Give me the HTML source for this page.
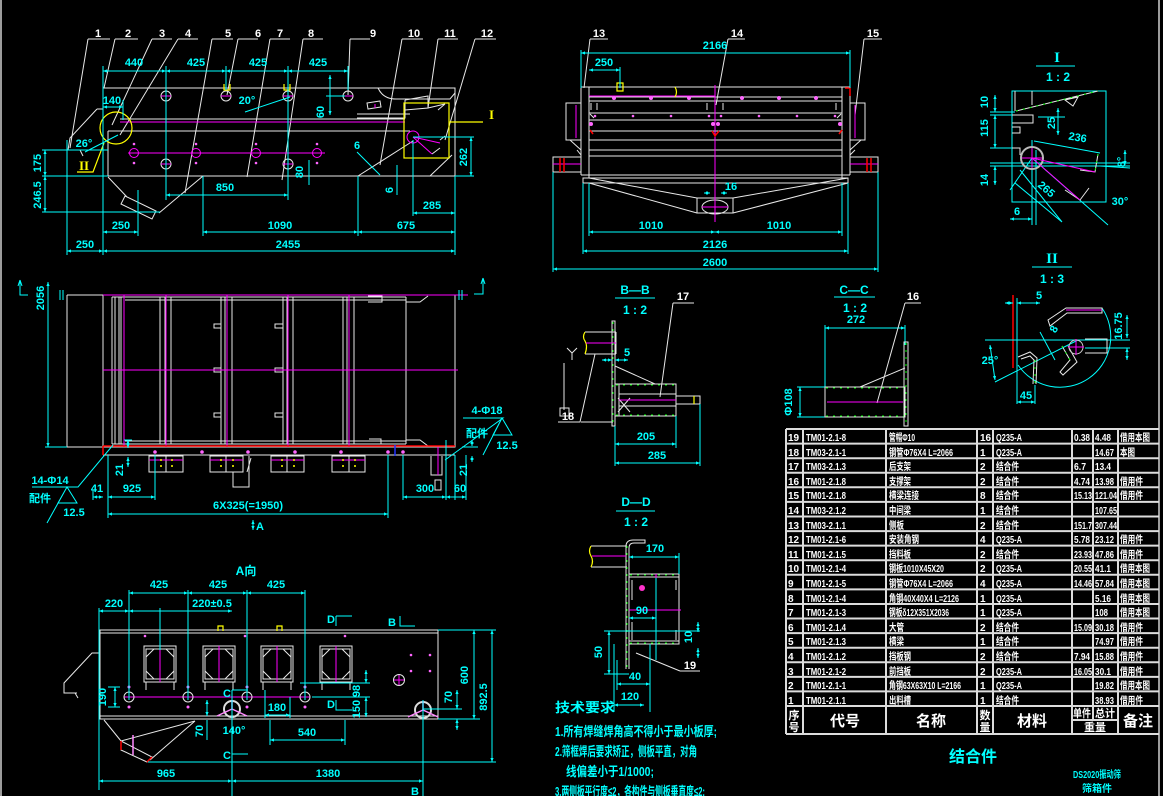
<!DOCTYPE html>
<html><head><meta charset="utf-8"><style>
html,body{margin:0;padding:0;background:#000;}
svg{display:block}
.w{stroke:#e8e8e8;fill:none;stroke-width:1}
.c{stroke:#00ffff;fill:none;stroke-width:1}
.m{stroke:#ff00ff;fill:none;stroke-width:1}
.y{stroke:#ffff00;fill:none;stroke-width:1.2}
.r{stroke:#ff0000;fill:none;stroke-width:1.5}
.g{stroke:#00ff00;fill:none;stroke-width:1;stroke-dasharray:2 5}
.d{stroke:#00ffff;fill:none;stroke-width:1;marker-start:url(#a);marker-end:url(#a)}
.tc{fill:#00ffff;font-family:"Liberation Sans","Noto Sans CJK SC",sans-serif;font-size:11px;font-weight:bold;text-anchor:middle}
.tw{fill:#ffffff;font-family:"Liberation Sans","Noto Sans CJK SC",sans-serif;font-size:11px;font-weight:bold;text-anchor:middle}
.tl{fill:#ffffff;font-family:"Liberation Sans","Noto Sans CJK SC",sans-serif;font-size:10px;font-weight:bold}
.tz{fill:#00ffff;font-family:"Liberation Sans","Noto Sans CJK SC",sans-serif;font-size:13px;font-weight:bold}
.pd{fill:#ff66ff}
</style></head><body>
<svg width="1163" height="796" viewBox="0 0 1163 796" xmlns="http://www.w3.org/2000/svg">
<defs>
<marker id="a" viewBox="0 0 10 10" refX="10" refY="5" markerWidth="7" markerHeight="4" markerUnits="userSpaceOnUse" orient="auto-start-reverse"><path d="M0,1 L10,5 L0,9z" fill="#00ffff"/></marker>
</defs>
<rect width="1163" height="796" fill="#000"/>
<path d="M1,0 V796 M1159,0 V796" stroke="#cfcfcf" stroke-width="1.5"/>

<!-- ================= VIEW 1 (side view) ================= -->
<g class="w">
<path d="M103,88 H455 V176 M103,88 V176 M108,131 V176 M108,176 H455"/>
<path d="M120,119 H405 M108,131 H410 M357,114 H410 M357,118 H405 V100"/>
<path d="M108,177 L127,197 M203,176 L159,213 M125,196 L156,211 L152,219 L121,204 Z"/>
<path d="M358,176 L413,141 M430,176 L452,155"/>
<path d="M378,88 Q383,99 396,99 H450 L455,93 M405,100 L428,96 V108 L405,110 M428,108 L445,104 L438,110 M440,140 L445,136 M432,154 L440,148"/>
<path d="M97,109 H103 M97,109 L70,138 L68,150 H108 M80,150 L83,156"/>
<path d="M367,103 L380,101 L381,107 L368,109 Z"/>
<circle cx="166" cy="96" r="5"/><circle cx="226" cy="96" r="5"/><circle cx="288" cy="96" r="5"/><circle cx="348" cy="96" r="5"/>
<circle cx="166" cy="164" r="5"/><circle cx="288" cy="164" r="5"/>
<path d="M88,39 H110 M88,39 L70,148 M115,39 H138 M115,39 L104,88 M152,39 H172 M152,39 L112,125 M178,39 H198 M178,39 L120,135 M212,39 H233 M212,39 L185,193 M238,39 H258 M238,39 L227,95 M270,39 H290 M270,39 L247,177 M303,39 H323 M303,39 L282,180 M350,39 H370 M350,39 L348,95 M402,39 H423 M402,39 L380,165 M438,39 H458 M438,39 L428,108 M475,39 H496 M475,39 L445,140"/>
</g>
<g class="m">
<path d="M120,122 H405 M128,153 H325 M161,96 H171 M166,91 V101 M221,96 H231 M283,96 H293 M343,96 H353 M161,164 H171 M283,164 H293"/>
<circle cx="134" cy="153" r="4.5"/><circle cx="196" cy="153" r="4.5"/><circle cx="256" cy="153" r="4.5"/><circle cx="317" cy="153" r="4.5"/>
<circle cx="413" cy="137" r="6"/>
<path d="M413,137 L440,143 M413,137 L432,154 M375,104 V108"/>
</g>
<g class="pd"><circle cx="134" cy="144" r="1.3"/><circle cx="134" cy="163" r="1.3"/><circle cx="196" cy="144" r="1.3"/><circle cx="196" cy="163" r="1.3"/><circle cx="256" cy="144" r="1.3"/><circle cx="256" cy="163" r="1.3"/><circle cx="317" cy="144" r="1.3"/><circle cx="317" cy="163" r="1.3"/></g>
<g class="y">
<rect x="404" y="103" width="45" height="55"/>
<circle cx="116" cy="128" r="16"/>
<path d="M449,122 H483 M104,143 L93,172 H77 M224,84 V90 H230 V84 M284,84 V90 H290 V84"/>
</g>
<text x="489" y="119" fill="#ffff00" font-family="Liberation Serif,serif" font-size="13" font-weight="bold">I</text>
<text x="79" y="170" fill="#ffff00" font-family="Liberation Serif,serif" font-size="13" font-weight="bold">II</text>
<g class="tw">
<text x="98" y="37">1</text><text x="128" y="37">2</text><text x="162" y="37">3</text><text x="188" y="37">4</text><text x="228" y="37">5</text><text x="258" y="37">6</text><text x="280" y="37">7</text><text x="311" y="37">8</text><text x="373" y="37">9</text><text x="414" y="37">10</text><text x="450" y="37">11</text><text x="487" y="37">12</text>
</g>
<g class="c">
<path d="M103,66 V255 M166,66 V200 M226,66 V90 M288,66 V200 M348,66 V90 M123,100 V120 M326,96 H345 M42,150 H108 M42,176 H108 M42,212 H160 M413,137 H474 M455,176 H474 M413,140 V216 M138,190 V236 M203,176 V236 M358,176 V236 M455,176 V255 M67,140 V255 M245,112 L290,97 M85,152 L118,135 M357,152 L380,175 M309,160 V185 M397,165 V195"/>
</g>
<g class="d">
<path d="M103,71 H166"/><path d="M166,71 H226"/><path d="M226,71 H288"/><path d="M288,71 H348"/>
<path d="M103,107 H123"/><path d="M330,75 V115"/>
<path d="M45,150 V176"/><path d="M45,176 V212"/>
<path d="M166,195 H288"/><path d="M471,137 V176"/><path d="M413,213 H455"/>
<path d="M103,232 H138"/><path d="M203,232 H358"/><path d="M358,232 H455"/>
<path d="M67,251 H103"/><path d="M103,251 H455"/>
</g>
<g class="tc">
<text x="134" y="66">440</text><text x="196" y="66">425</text><text x="258" y="66">425</text><text x="318" y="66">425</text>
<text x="112" y="104">140</text><text x="247" y="104">20°</text><text x="84" y="147">26°</text>
<text x="225" y="191">850</text><text x="357" y="149">6</text><text x="432" y="209">285</text>
<text x="121" y="229">250</text><text x="280" y="229">1090</text><text x="406" y="229">675</text>
<text x="85" y="248">250</text><text x="288" y="248">2455</text>
<text transform="rotate(-90 324 112)" x="324" y="112">60</text>
<text transform="rotate(-90 303 172)" x="303" y="172">80</text>
<text transform="rotate(-90 393 190)" x="393" y="190">6</text>
<text transform="rotate(-90 467 157)" x="467" y="157">262</text>
<text transform="rotate(-90 41 163)" x="41" y="163">175</text>
<text transform="rotate(-90 41 195)" x="41" y="195">246.5</text>
</g>

<!-- ================= VIEW 2 (end view) ================= -->
<g class="w">
<path d="M581,87 H850 M581,87 V175 M589,87 V178 M842,87 V178 M850,87 V175 M581,175 H850"/>
<path d="M589,97 H842 M589,101 H842 M589,113 H842 M589,120 H842 M589,131 H842 M589,140 H842 M589,150 H842 M589,156 H842"/>
<rect x="566" y="103" width="15" height="37"/><rect x="850" y="103" width="15" height="37"/>
<path d="M570,140 L581,150 M577,150 L581,155 M861,140 L850,150 M855,150 L850,155"/>
<rect x="553" y="157" width="28" height="15"/><rect x="850" y="157" width="28" height="15"/>
<rect x="583" y="178" width="265" height="5"/>
<path d="M589,178 L697,198 M589,183 L697,213 M733,198 L848,178 M733,213 L848,183"/>
<rect x="697" y="198" width="36" height="15"/>
<ellipse cx="715" cy="207" rx="13" ry="7"/>
<path d="M591,103 V110 M597,103 V110 M707,103 V110 M723,103 V110 M836,103 V110 M590,114 L594,118 M841,114 L837,118"/>
<path d="M590,39 H608 M590,39 L584,88 M728,39 H745 M728,39 L716,105 M864,39 H882 M864,39 L855,115"/>
</g>
<g class="m">
<path d="M715,85 V222 M589,96 H715 M576,105 V138 M855,105 V138 M553,164 H581 M850,164 H878 M702,207 H728"/>
</g>
<g class="pd">
<circle cx="614" cy="98" r="2"/><circle cx="651" cy="98" r="2"/><circle cx="689" cy="98" r="2"/><circle cx="742" cy="98" r="2"/><circle cx="779" cy="98" r="2"/><circle cx="816" cy="98" r="2"/>
<circle cx="595" cy="116" r="1.3"/><circle cx="633" cy="116" r="1.3"/><circle cx="671" cy="116" r="1.3"/><circle cx="709" cy="116" r="1.3"/><circle cx="721" cy="116" r="1.3"/><circle cx="759" cy="116" r="1.3"/><circle cx="797" cy="116" r="1.3"/><circle cx="835" cy="116" r="1.3"/>
<circle cx="591" cy="124" r="2"/><circle cx="713" cy="124" r="2"/><circle cx="718" cy="124" r="2"/><circle cx="840" cy="124" r="2"/>
</g>
<g class="r"><path d="M845,88 H850 V96 M560,158 V172 M564,158 V172 M867,158 V172 M871,158 V172 M590,130 L593,134 M712,131 L715,136 L719,131 M842,130 L839,134"/></g>
<path d="M617,83 H623 V91 H617 Z M675,87 Q678,92 675,97" class="y"/>
<g class="c">
<path d="M581,50 V88 M850,50 V88 M620,67 V88 M553,172 V272 M878,172 V272 M583,183 V254 M848,183 V254 M589,183 V236 M842,183 V236"/>
</g>
<g class="d">
<path d="M581,53 H850"/><path d="M589,70 H620"/><path d="M704,193 H710"/><path d="M727,193 H721"/>
<path d="M589,232 H715"/><path d="M715,232 H842"/><path d="M583,251 H848"/><path d="M553,269 H878"/>
</g>
<g class="tc">
<text x="715" y="49">2166</text><text x="604" y="66">250</text><text x="731" y="190">16</text>
<text x="651" y="229">1010</text><text x="779" y="229">1010</text><text x="715" y="248">2126</text><text x="715" y="266">2600</text>
</g>
<g class="tw"><text x="599" y="37">13</text><text x="737" y="37">14</text><text x="873" y="37">15</text></g>

<!-- ================= DETAIL I ================= -->
<g class="c">
<rect x="1012" y="91" width="94" height="111"/>
<path d="M1036,66 H1075 M990,163 H1130 M990,166 H1130 M990,112 H1015 M990,115 H1015 M990,148 H1015 M1038,117 H1065 M1034,141 L1100,153 M1032,158 L1108,225 M1020,170 L1062,222 M1032,158 L1010,190 M1015,183 L1062,222 M1100,166 L1130,168 M1032,140 V225 M1036,150 V225"/>
</g>
<g class="d"><path d="M995,95 V112"/><path d="M995,115 V148"/><path d="M995,166 V185"/><path d="M1058,108 V135"/><path d="M1010,219 H1032"/><path d="M1125,165 V150"/></g>
<g class="w">
<path d="M1016,111 L1098,91 M1015,91 V111 M1032,91 V105 M1065,100 L1078,97 L1073,106 Z M1012,115 H1033 V123 H1012 M1012,127 H1020 V133 H1012 M1012,148 H1020 V155 M1098,154 L1095,172 L1080,170 M1065,190 L1080,200 L1089,188"/>
</g>
<circle cx="1032" cy="158" r="11" stroke="#bbbbbb" stroke-width="2" fill="none"/>
<g class="m"><path d="M1022,158 H1042 M1032,148 V168 M1032,158 L1095,172 M1032,158 L1080,200"/></g>
<g class="g"><path d="M1016,111 L1098,91 M1098,154 L1095,172"/></g>
<text x="1057" y="62" class="tc" style="font-size:15px;font-family:'Liberation Serif',serif">I</text>
<text x="1058" y="81" class="tc" style="font-size:12px">1 : 2</text>
<g class="tc">
<text transform="rotate(-90 988 102)" x="988" y="102">10</text>
<text transform="rotate(-90 988 128)" x="988" y="128">115</text>
<text transform="rotate(-90 988 180)" x="988" y="180">14</text>
<text transform="rotate(-90 1055 123)" x="1055" y="123">25</text>
<text transform="rotate(10 1077 141)" x="1077" y="141">236</text>
<text transform="rotate(-90 1125 162)" x="1125" y="162">8°</text>
<text x="1120" y="205">30°</text>
<text transform="rotate(40 1044 192)" x="1044" y="192">265</text>
<text x="1017" y="215">6</text>
</g>

<!-- ================= DETAIL II ================= -->
<path d="M1032,267 H1072" class="c"/>
<text x="1052" y="263" class="tc" style="font-size:15px;font-family:'Liberation Serif',serif">II</text>
<text x="1052" y="283" class="tc" style="font-size:12px">1 : 3</text>
<path d="M1013,295 V368" class="r"/>
<g class="c">
<path d="M1102,308 A50,50 0 1 1 1018,365"/>
<path d="M1017,298 V404 M985,340 H1130 M1085,348 H1130 M995,382 L1078,340 M1040,332 L1055,360 M1035,385 V404"/>
</g>
<g class="d"><path d="M1005,303 H1013"/><path d="M1040,303 H1017"/><path d="M1127,315 V338"/><path d="M1127,360 V348"/><path d="M1017,402 H1035"/><path d="M990,345 L995,380"/></g>
<g class="w">
<path d="M1048,320 L1066,308 H1102 V313 H1067 L1050,326 Z M1085,339 H1107 V353 H1085 M1018,357 L1030,352 L1037,358 L1036,384 M1021,359 L1030,356 L1034,360 L1033,384 M1062,346 L1070,360 L1060,372 L1063,375 L1077,362 L1068,346"/>
</g>
<circle cx="1076" cy="347" r="7" stroke="#cccccc" fill="none"/>
<g class="m"><path d="M1068,347 H1084 M1076,339 V355 M1066,310 L1102,310"/></g>
<g class="g"><path d="M1035,360 V384 M1062,346 L1070,360"/></g>
<g class="tc">
<text x="1039" y="299">5</text>
<text transform="rotate(-90 1122 326)" x="1122" y="326">16.75</text>
<text x="990" y="364">25°</text><text x="1026" y="399">45</text>
<text transform="rotate(-60 1057 331)" x="1057" y="331">8</text>
</g>

<!-- ================= C-C ================= -->
<text x="854" y="294" class="tc" style="font-size:12px">C—C</text>
<path d="M834,297 H875" class="c"/>
<text x="855" y="312" class="tc" style="font-size:12px">1 : 2</text>
<g class="c"><path d="M825,325 V417 M905,325 V345 M797,387 H825 M797,417 H825"/></g>
<g class="d"><path d="M825,328 H905"/><path d="M800,387 V417"/></g>
<g class="w">
<rect x="825" y="387" width="80" height="30"/><rect x="904" y="342" width="4" height="84"/>
<path d="M860,387 L905,368 M905,303 H921 M905,303 L877,403"/>
</g>
<path d="M827,402 H903" class="m"/>
<g class="g"><path d="M826,388 H904 M826,416 H904 M906,343 V425"/></g>
<g class="tc"><text x="856" y="323">272</text><text transform="rotate(-90 792 402)" x="792" y="402">Φ108</text></g>
<text x="913" y="300" class="tw">16</text>

<!-- ================= B-B ================= -->
<text x="635" y="294" class="tc" style="font-size:12px">B—B</text>
<path d="M615,298 H655" class="c"/>
<text x="635" y="314" class="tc" style="font-size:12px">1 : 2</text>
<g class="w">
<rect x="612" y="321" width="3" height="105"/>
<path d="M585,332 H616 M585,354 H616 M616,332 V354 M615,366 L655,384"/>
<rect x="615" y="384" width="61" height="32"/>
<path d="M619,394 H676 M619,406 H676 M619,384 V416 M618,398 L630,412 M630,398 L618,412"/>
<rect x="676" y="396" width="24" height="8"/>
<path d="M673,303 H694 M673,303 L660,397 M564,363 V410 M560,408 H569 V416 H560 Z M558,422 H580 L595,354 M567,348 L572,353 L577,348 M572,353 V360 M581,422 H613"/>
</g>
<path d="M585,332 Q582,337 585,341 Q588,346 585,354 M694,396 V404" class="y"/>
<path d="M586,343 H616 M619,400 H676" class="m"/>
<g class="g"><path d="M613,322 V426 M616,385 H676 M616,415 H676"/></g>
<g class="c"><path d="M615,426 V466 M676,416 V448 M700,404 V466"/></g>
<g class="d"><path d="M602,360 H612"/><path d="M628,360 H615"/><path d="M615,444 H676"/><path d="M615,463 H700"/></g>
<g class="tc"><text x="627" y="356">5</text><text x="646" y="440">205</text><text x="657" y="459">285</text></g>
<g class="tw"><text x="683" y="300">17</text><text x="568" y="420">18</text></g>

<!-- ================= D-D ================= -->
<text x="636" y="506" class="tc" style="font-size:12px">D—D</text>
<path d="M616,511 H655" class="c"/>
<text x="636" y="526" class="tc" style="font-size:12px">1 : 2</text>
<g class="w">
<path d="M591,546 H627 M591,567 H627 M626,545 V669 M629,548 V669 M626,545 Q627,540 633,540 H645 V543 H634 Q629,543 629,548"/>
<rect x="629" y="574" width="50" height="70"/>
<path d="M629,577 H679 M629,641 H679 M632,580 V600 M632,622 V640 M676,580 V590 M676,630 V640 M680,671 H700 M680,671 L636,653"/>
</g>
<path d="M591,546 Q588,551 591,556 Q594,561 591,567" class="y"/>
<g class="m"><path d="M592,556 H626 M629,610 H681 M656,574 V640"/></g>
<circle cx="642" cy="588" r="3" fill="#ff33cc"/>
<g class="g"><path d="M627,546 V668 M630,575 H678 M630,643 H678"/></g>
<g class="c"><path d="M679,553 V574 M656,578 V660 M604,631 H700 M604,674 H629 M617,660 V690 M650,644 V712 M614,644 V712"/></g>
<g class="d"><path d="M629,557 H679"/><path d="M629,618 H656"/><path d="M698,622 V632"/><path d="M698,658 V648"/><path d="M609,631 V674"/><path d="M617,684 H650"/><path d="M614,705 H644"/></g>
<g class="tc"><text x="655" y="552">170</text><text x="642" y="614">90</text>
<text transform="rotate(-90 692 637)" x="692" y="637">10</text>
<text transform="rotate(-90 602 652)" x="602" y="652">50</text>
<text x="635" y="680">40</text><text x="630" y="700">120</text></g>
<text x="690" y="669" class="tw">19</text>

<!-- ================= VIEW 3 (plan view) ================= -->
<g class="w">
<path d="M67,295 V447 H455 V295 M67,295 H103 M103,295 V447"/>
<path d="M112,297 V444 M115,297 V444 M119,297 V444 M121,297 V444 M160,297 V444 M165,297 V444 M171,297 V444 M221,297 V444 M225,297 V444 M232,297 V444 M283,297 V444 M287,297 V444 M293,297 V444 M343,297 V444 M347,297 V444 M354,297 V444 M406,297 V444"/>
<path d="M112,297 H406 M125,300 H406 M125,441 H406 M112,444 H406"/>
<path d="M368,296 H382 V302 H368 M406,302 H420 L428,296 M406,440 H420 L428,446 M369,439 H381 V444"/>
<path d="M214,324 H221 V328 H214 Z M214,368 H221 V372 H214 Z M214,413 H221 V417 H214 Z M275,324 H283 V328 H275 Z M275,368 H283 V372 H275 Z M275,413 H283 V417 H275 Z"/>
<path d="M103,455 H455"/>
<rect x="149" y="456" width="34" height="16"/><rect x="210" y="456" width="33" height="16"/><rect x="271" y="456" width="33" height="16"/><rect x="332" y="456" width="33" height="16"/>
<path d="M166,456 V472 M226,456 V472 M287,456 V472 M349,456 V472 M233,472 V487 H249 V456 M251,458 L247,472 M431,456 V475 H442 V456 M435,480 H441 V490 H435 Z"/>
</g>
<g class="m">
<path d="M103,295 H468 M103,370 H458 M124,295 V447 M166,295 V447 M227,295 V447 M288,295 V447 M349,295 V447"/>
<path d="M149,460 H183 M210,460 H243 M271,460 H304 M332,460 H365 M438,447 V475"/>
</g>
<path d="M103,446 H455 M103,446 V455" class="r"/>
<path d="M395,445 V456" stroke="#2233ff" stroke-width="1.5"/>
<g class="pd"><circle cx="155" cy="452" r="1.8"/><circle cx="202" cy="452" r="1.8"/><circle cx="248" cy="452" r="1.8"/><circle cx="295" cy="452" r="1.8"/><circle cx="341" cy="452" r="1.8"/><circle cx="388" cy="452" r="1.8"/><circle cx="403" cy="452" r="1.8"/></g>
<g fill="#ffff00"><circle cx="161" cy="460" r="1"/><circle cx="172" cy="460" r="1"/><circle cx="161" cy="466" r="1"/><circle cx="172" cy="466" r="1"/><circle cx="221" cy="460" r="1"/><circle cx="233" cy="460" r="1"/><circle cx="221" cy="466" r="1"/><circle cx="233" cy="466" r="1"/><circle cx="282" cy="460" r="1"/><circle cx="294" cy="460" r="1"/><circle cx="282" cy="466" r="1"/><circle cx="294" cy="466" r="1"/><circle cx="343" cy="460" r="1"/><circle cx="355" cy="460" r="1"/><circle cx="343" cy="466" r="1"/><circle cx="355" cy="466" r="1"/></g>
<g class="c">
<path d="M20,280 V295 H28 M483,278 V294 H474 M60,290 V300 M63,290 V300 M459,290 V300 M462,290 V300 M45,447 H67"/>
<path d="M32,487 H78 L113,445 M47,523 L67,487 M58,503 L67,487 L77,503 Z"/>
<path d="M463,418 H503 L445,460 M483,455 L502,418 M493,435 L502,418 L512,435 Z"/>
<path d="M108,455 V518 M155,455 V500 M403,455 V500 M446,440 V500 M455,455 V500 M466,455 V500 M388,455 V518 M93,490 V500 M124,440 H132 M462,447 H478"/>
<path d="M20,280 L18,286 M20,280 L22,286 M483,278 L481,284 M483,278 L485,284"/>
</g>
<g class="d"><path d="M48,282 V447"/><path d="M128,440 V448"/><path d="M128,467 V457"/><path d="M472,440 V446"/><path d="M472,462 V456"/>
<path d="M93,497 H103"/><path d="M108,497 H155"/><path d="M403,497 H446"/><path d="M446,497 H466"/><path d="M108,514 H388"/><path d="M253,530 V520"/></g>
<g class="tc">
<text transform="rotate(-90 44 298)" x="44" y="298">2056</text>
<text x="50" y="484">14-Φ14</text><text x="40" y="502">配件</text><text x="74" y="516">12.5</text>
<text x="487" y="414">4-Φ18</text><text x="477" y="437">配件</text><text x="507" y="449">12.5</text>
<text transform="rotate(-90 123 470)" x="123" y="470">21</text>
<text transform="rotate(-90 467 470)" x="467" y="470">21</text>
<text x="97" y="492">41</text><text x="132" y="492">925</text><text x="425" y="492">300</text><text x="460" y="492">60</text>
<text x="248" y="509">6X325(=1950)</text><text x="260" y="530">A</text>
</g>

<!-- ================= VIEW 4 (A direction) ================= -->
<text x="246" y="575" class="tc" style="font-size:12px">A向</text>
<g class="w">
<path d="M100,630 H438 V719 H100 Z M100,633 H438 M100,716 H438"/>
<path d="M100,653 H92 L64,683 V693 H77 M75,693 L78,698"/>
<path d="M104,720 L121,741 M121,741 L195,721 M150,760 L195,721 M121,741 L152,757 L147,762 L121,750 Z"/>
</g>
<g id="bx">
<g class="w"><rect x="144" y="646" width="32" height="36"/><rect x="146" y="649" width="28" height="30"/>
<path d="M146,657 L154,649 M166,649 L174,657 M146,671 L154,679 M166,679 L174,671 M146,682 V690 M174,682 V690"/></g>
<path d="M160,646 V682" class="m"/>
</g>
<use href="#bx" x="59"/><use href="#bx" x="117"/><use href="#bx" x="176"/>
<g class="m"><path d="M125,697 H310 M124,697 H134 M183,697 H193 M242,697 H252 M300,697 H310 M394,680 H404 M399,675 V685"/></g>
<g class="w"><circle cx="129" cy="697" r="5"/><circle cx="188" cy="697" r="5"/><circle cx="247" cy="697" r="5"/><circle cx="305" cy="697" r="5"/><circle cx="399" cy="680" r="5.5"/></g>
<circle cx="232" cy="709" r="8" stroke="#dddddd" stroke-width="2" fill="none"/>
<circle cx="423" cy="710" r="8" stroke="#dddddd" stroke-width="2" fill="none"/>
<g stroke="#ff88ff" stroke-width="1.5"><path d="M232,709 L217,716 M232,709 L247,716 M232,709 V700 M423,710 L408,717 M423,710 L438,717 M423,710 V701 M133,735 V755"/></g>
<g class="pd"><circle cx="129" cy="687" r="1.5"/><circle cx="129" cy="707" r="1.5"/><circle cx="188" cy="687" r="1.5"/><circle cx="188" cy="707" r="1.5"/><circle cx="247" cy="687" r="1.5"/><circle cx="247" cy="707" r="1.5"/><circle cx="305" cy="687" r="1.5"/><circle cx="305" cy="707" r="1.5"/><circle cx="145" cy="636" r="1.3"/><circle cx="245" cy="636" r="1.3"/><circle cx="345" cy="636" r="1.3"/><circle cx="411" cy="655" r="1.3"/><circle cx="430" cy="655" r="1.3"/><circle cx="411" cy="671" r="1.3"/><circle cx="430" cy="671" r="1.3"/></g>
<path d="M218,631 V626 H223 V631 M277,631 V626 H282 V631" class="y"/>
<path d="M121,741 L121,750 M152,757 L147,762" class="r"/>
<g class="c">
<path d="M99,608 V790 M129,590 V700 M188,590 V700 M247,590 V700 M305,590 V700 M160,608 V650 M438,630 H496 M438,719 H480 M148,762 H496 M232,690 V796 M423,700 V796 M423,709 H462"/>
<path d="M300,683 H370 M312,697 H370 M265,690 V718 M290,697 V718 M270,720 V745 M345,720 V745 M207,720 V740 M108,687 H120 M108,707 H120 M400,616 V626 H415 M336,616 V626 M336,616 H352 M336,700 V710 H352 M232,690 H248 M232,754 H248"/>
</g>
<g class="d"><path d="M129,593 H188"/><path d="M188,593 H247"/><path d="M247,593 H305"/><path d="M99,611 H129"/><path d="M129,611 H232"/>
<path d="M474,630 V719"/><path d="M492,630 V762"/><path d="M457,690 V709"/><path d="M457,730 V719"/><path d="M366,670 V683"/><path d="M366,717 V697"/>
<path d="M265,715 H290"/><path d="M270,740 H345"/><path d="M207,700 V716"/><path d="M115,687 V707"/><path d="M99,781 H232"/><path d="M232,781 H423"/></g>
<g class="tc">
<text x="159" y="588">425</text><text x="218" y="588">425</text><text x="276" y="588">425</text>
<text x="114" y="607">220</text><text x="212" y="607">220±0.5</text>
<text transform="rotate(-90 468 675)" x="468" y="675">600</text>
<text transform="rotate(-90 487 697)" x="487" y="697">892.5</text>
<text transform="rotate(-90 452 697)" x="452" y="697">70</text>
<text transform="rotate(-90 360 691)" x="360" y="691">98</text>
<text transform="rotate(-90 360 709)" x="360" y="709">150</text>
<text x="277" y="711">180</text><text x="307" y="736">540</text><text x="234" y="734">140°</text>
<text transform="rotate(-90 203 731)" x="203" y="731">70</text>
<text transform="rotate(-90 106 697)" x="106" y="697">190</text>
<text x="166" y="777">965</text><text x="328" y="777">1380</text>
<text x="227" y="697">C</text><text x="227" y="759">C</text><text x="331" y="623">D</text><text x="331" y="708">D</text><text x="392" y="626">B</text><text x="415" y="795">B</text>
</g>

<!-- ================= TECH REQUIREMENTS ================= -->
<text x="555" y="712" class="tz" textLength="60" lengthAdjust="spacingAndGlyphs">技术要求</text>
<text x="555" y="736" class="tz" textLength="162" lengthAdjust="spacingAndGlyphs">1.所有焊缝焊角高不得小于最小板厚;</text>
<text x="555" y="756" class="tz" textLength="142" lengthAdjust="spacingAndGlyphs">2.筛框焊后要求矫正，侧板平直，对角</text>
<text x="566" y="776" class="tz" textLength="88" lengthAdjust="spacingAndGlyphs">线偏差小于1/1000;</text>
<text x="555" y="796" class="tz" textLength="150" lengthAdjust="spacingAndGlyphs">3.两侧板平行度≤2，各构件与侧板垂直度≤2;</text>

<!-- ================= TABLE ================= -->
<g stroke="#dcdcdc" stroke-width="2" fill="none">
<path d="M786,429 H1159 M786,443.6 H1159 M786,458.2 H1159 M786,472.7 H1159 M786,487.3 H1159 M786,501.9 H1159 M786,516.5 H1159 M786,531.1 H1159 M786,545.6 H1159 M786,560.2 H1159 M786,574.8 H1159 M786,589.4 H1159 M786,604 H1159 M786,618.5 H1159 M786,633.1 H1159 M786,647.7 H1159 M786,662.3 H1159 M786,676.9 H1159 M786,691.4 H1159 M786,706 H1159 M786,734 H1159"/>
<path d="M786,429 V734 M803,429 V734 M886,429 V734 M977,429 V734 M993,429 V734 M1072,429 V734 M1093,429 V720 M1118,429 V734 M1072,720 H1118"/>
</g>
<g class="tl">
<text x="788" y="441">19</text><text x="806" y="441" textLength="40" lengthAdjust="spacingAndGlyphs">TM01-2.1-8</text><text x="889" y="441" textLength="26" lengthAdjust="spacingAndGlyphs">管帽Φ10</text><text x="980" y="441">16</text><text x="996" y="441" textLength="26" lengthAdjust="spacingAndGlyphs">Q235-A</text><text x="1074" y="441" textLength="16" lengthAdjust="spacingAndGlyphs">0.38</text><text x="1095" y="441" textLength="16" lengthAdjust="spacingAndGlyphs">4.48</text><text x="1120" y="441" textLength="30" lengthAdjust="spacingAndGlyphs">借用本图</text>
<text x="788" y="456">18</text><text x="806" y="456" textLength="40" lengthAdjust="spacingAndGlyphs">TM03-2.1-1</text><text x="889" y="456" textLength="64" lengthAdjust="spacingAndGlyphs">钢管Φ76X4  L=2066</text><text x="980" y="456">1</text><text x="996" y="456" textLength="26" lengthAdjust="spacingAndGlyphs">Q235-A</text><text x="1095" y="456" textLength="19" lengthAdjust="spacingAndGlyphs">14.67</text><text x="1120" y="456" textLength="15" lengthAdjust="spacingAndGlyphs">本图</text>
<text x="788" y="470">17</text><text x="806" y="470" textLength="40" lengthAdjust="spacingAndGlyphs">TM03-2.1.3</text><text x="889" y="470" textLength="22" lengthAdjust="spacingAndGlyphs">后支架</text><text x="980" y="470">2</text><text x="996" y="470" textLength="23" lengthAdjust="spacingAndGlyphs">结合件</text><text x="1074" y="470" textLength="12" lengthAdjust="spacingAndGlyphs">6.7</text><text x="1095" y="470" textLength="16" lengthAdjust="spacingAndGlyphs">13.4</text>
<text x="788" y="485">16</text><text x="806" y="485" textLength="40" lengthAdjust="spacingAndGlyphs">TM01-2.1.8</text><text x="889" y="485" textLength="22" lengthAdjust="spacingAndGlyphs">支撑架</text><text x="980" y="485">2</text><text x="996" y="485" textLength="23" lengthAdjust="spacingAndGlyphs">结合件</text><text x="1074" y="485" textLength="16" lengthAdjust="spacingAndGlyphs">4.74</text><text x="1095" y="485" textLength="19" lengthAdjust="spacingAndGlyphs">13.98</text><text x="1120" y="485" textLength="23" lengthAdjust="spacingAndGlyphs">借用件</text>
<text x="788" y="499">15</text><text x="806" y="499" textLength="40" lengthAdjust="spacingAndGlyphs">TM01-2.1.8</text><text x="889" y="499" textLength="30" lengthAdjust="spacingAndGlyphs">横梁连接</text><text x="980" y="499">8</text><text x="996" y="499" textLength="23" lengthAdjust="spacingAndGlyphs">结合件</text><text x="1074" y="499" textLength="18" lengthAdjust="spacingAndGlyphs">15.13</text><text x="1095" y="499" textLength="22" lengthAdjust="spacingAndGlyphs">121.04</text><text x="1120" y="499" textLength="23" lengthAdjust="spacingAndGlyphs">借用件</text>
<text x="788" y="514">14</text><text x="806" y="514" textLength="40" lengthAdjust="spacingAndGlyphs">TM03-2.1.2</text><text x="889" y="514" textLength="22" lengthAdjust="spacingAndGlyphs">中间梁</text><text x="980" y="514">1</text><text x="996" y="514" textLength="23" lengthAdjust="spacingAndGlyphs">结合件</text><text x="1095" y="514" textLength="22" lengthAdjust="spacingAndGlyphs">107.65</text>
<text x="788" y="529">13</text><text x="806" y="529" textLength="40" lengthAdjust="spacingAndGlyphs">TM03-2.1.1</text><text x="889" y="529" textLength="15" lengthAdjust="spacingAndGlyphs">侧板</text><text x="980" y="529">2</text><text x="996" y="529" textLength="23" lengthAdjust="spacingAndGlyphs">结合件</text><text x="1074" y="529" textLength="18" lengthAdjust="spacingAndGlyphs">151.7</text><text x="1095" y="529" textLength="22" lengthAdjust="spacingAndGlyphs">307.44</text>
<text x="788" y="543">12</text><text x="806" y="543" textLength="40" lengthAdjust="spacingAndGlyphs">TM01-2.1-6</text><text x="889" y="543" textLength="30" lengthAdjust="spacingAndGlyphs">安装角钢</text><text x="980" y="543">4</text><text x="996" y="543" textLength="26" lengthAdjust="spacingAndGlyphs">Q235-A</text><text x="1074" y="543" textLength="16" lengthAdjust="spacingAndGlyphs">5.78</text><text x="1095" y="543" textLength="19" lengthAdjust="spacingAndGlyphs">23.12</text><text x="1120" y="543" textLength="23" lengthAdjust="spacingAndGlyphs">借用件</text>
<text x="788" y="558">11</text><text x="806" y="558" textLength="40" lengthAdjust="spacingAndGlyphs">TM01-2.1.5</text><text x="889" y="558" textLength="22" lengthAdjust="spacingAndGlyphs">挡料板</text><text x="980" y="558">2</text><text x="996" y="558" textLength="23" lengthAdjust="spacingAndGlyphs">结合件</text><text x="1074" y="558" textLength="18" lengthAdjust="spacingAndGlyphs">23.93</text><text x="1095" y="558" textLength="19" lengthAdjust="spacingAndGlyphs">47.86</text><text x="1120" y="558" textLength="23" lengthAdjust="spacingAndGlyphs">借用件</text>
<text x="788" y="572">10</text><text x="806" y="572" textLength="40" lengthAdjust="spacingAndGlyphs">TM01-2.1-4</text><text x="889" y="572" textLength="55" lengthAdjust="spacingAndGlyphs">钢板1010X45X20</text><text x="980" y="572">2</text><text x="996" y="572" textLength="26" lengthAdjust="spacingAndGlyphs">Q235-A</text><text x="1074" y="572" textLength="18" lengthAdjust="spacingAndGlyphs">20.55</text><text x="1095" y="572" textLength="16" lengthAdjust="spacingAndGlyphs">41.1</text><text x="1120" y="572" textLength="30" lengthAdjust="spacingAndGlyphs">借用本图</text>
<text x="788" y="587">9</text><text x="806" y="587" textLength="40" lengthAdjust="spacingAndGlyphs">TM01-2.1-5</text><text x="889" y="587" textLength="64" lengthAdjust="spacingAndGlyphs">钢管Φ76X4  L=2066</text><text x="980" y="587">4</text><text x="996" y="587" textLength="26" lengthAdjust="spacingAndGlyphs">Q235-A</text><text x="1074" y="587" textLength="18" lengthAdjust="spacingAndGlyphs">14.46</text><text x="1095" y="587" textLength="19" lengthAdjust="spacingAndGlyphs">57.84</text><text x="1120" y="587" textLength="30" lengthAdjust="spacingAndGlyphs">借用本图</text>
<text x="788" y="602">8</text><text x="806" y="602" textLength="40" lengthAdjust="spacingAndGlyphs">TM01-2.1-4</text><text x="889" y="602" textLength="70" lengthAdjust="spacingAndGlyphs">角钢40X40X4  L=2126</text><text x="980" y="602">1</text><text x="996" y="602" textLength="26" lengthAdjust="spacingAndGlyphs">Q235-A</text><text x="1095" y="602" textLength="16" lengthAdjust="spacingAndGlyphs">5.16</text><text x="1120" y="602" textLength="30" lengthAdjust="spacingAndGlyphs">借用本图</text>
<text x="788" y="616">7</text><text x="806" y="616" textLength="40" lengthAdjust="spacingAndGlyphs">TM01-2.1-3</text><text x="889" y="616" textLength="60" lengthAdjust="spacingAndGlyphs">钢板δ12X351X2036</text><text x="980" y="616">1</text><text x="996" y="616" textLength="26" lengthAdjust="spacingAndGlyphs">Q235-A</text><text x="1095" y="616" textLength="13" lengthAdjust="spacingAndGlyphs">108</text><text x="1120" y="616" textLength="30" lengthAdjust="spacingAndGlyphs">借用本图</text>
<text x="788" y="631">6</text><text x="806" y="631" textLength="40" lengthAdjust="spacingAndGlyphs">TM01-2.1.4</text><text x="889" y="631" textLength="15" lengthAdjust="spacingAndGlyphs">大管</text><text x="980" y="631">2</text><text x="996" y="631" textLength="23" lengthAdjust="spacingAndGlyphs">结合件</text><text x="1074" y="631" textLength="18" lengthAdjust="spacingAndGlyphs">15.09</text><text x="1095" y="631" textLength="19" lengthAdjust="spacingAndGlyphs">30.18</text><text x="1120" y="631" textLength="23" lengthAdjust="spacingAndGlyphs">借用件</text>
<text x="788" y="645">5</text><text x="806" y="645" textLength="40" lengthAdjust="spacingAndGlyphs">TM01-2.1.3</text><text x="889" y="645" textLength="15" lengthAdjust="spacingAndGlyphs">横梁</text><text x="980" y="645">1</text><text x="996" y="645" textLength="23" lengthAdjust="spacingAndGlyphs">结合件</text><text x="1095" y="645" textLength="19" lengthAdjust="spacingAndGlyphs">74.97</text><text x="1120" y="645" textLength="23" lengthAdjust="spacingAndGlyphs">借用件</text>
<text x="788" y="660">4</text><text x="806" y="660" textLength="40" lengthAdjust="spacingAndGlyphs">TM01-2.1.2</text><text x="889" y="660" textLength="22" lengthAdjust="spacingAndGlyphs">挡板钢</text><text x="980" y="660">2</text><text x="996" y="660" textLength="23" lengthAdjust="spacingAndGlyphs">结合件</text><text x="1074" y="660" textLength="16" lengthAdjust="spacingAndGlyphs">7.94</text><text x="1095" y="660" textLength="19" lengthAdjust="spacingAndGlyphs">15.88</text><text x="1120" y="660" textLength="23" lengthAdjust="spacingAndGlyphs">借用件</text>
<text x="788" y="675">3</text><text x="806" y="675" textLength="40" lengthAdjust="spacingAndGlyphs">TM01-2.1-2</text><text x="889" y="675" textLength="22" lengthAdjust="spacingAndGlyphs">前挡板</text><text x="980" y="675">2</text><text x="996" y="675" textLength="26" lengthAdjust="spacingAndGlyphs">Q235-A</text><text x="1074" y="675" textLength="18" lengthAdjust="spacingAndGlyphs">16.05</text><text x="1095" y="675" textLength="16" lengthAdjust="spacingAndGlyphs">30.1</text><text x="1120" y="675" textLength="23" lengthAdjust="spacingAndGlyphs">借用件</text>
<text x="788" y="689">2</text><text x="806" y="689" textLength="40" lengthAdjust="spacingAndGlyphs">TM01-2.1-1</text><text x="889" y="689" textLength="72" lengthAdjust="spacingAndGlyphs">角钢63X63X10  L=2166</text><text x="980" y="689">1</text><text x="996" y="689" textLength="26" lengthAdjust="spacingAndGlyphs">Q235-A</text><text x="1095" y="689" textLength="19" lengthAdjust="spacingAndGlyphs">19.82</text><text x="1120" y="689" textLength="30" lengthAdjust="spacingAndGlyphs">借用本图</text>
<text x="788" y="704">1</text><text x="806" y="704" textLength="40" lengthAdjust="spacingAndGlyphs">TM01-2.1.1</text><text x="889" y="704" textLength="22" lengthAdjust="spacingAndGlyphs">出料槽</text><text x="980" y="704">1</text><text x="996" y="704" textLength="23" lengthAdjust="spacingAndGlyphs">结合件</text><text x="1095" y="704" textLength="19" lengthAdjust="spacingAndGlyphs">38.93</text><text x="1120" y="704" textLength="23" lengthAdjust="spacingAndGlyphs">借用件</text>
</g>
<g class="tw" style="font-size:15px">
<text x="845" y="726">代号</text><text x="931" y="726">名称</text><text x="1032" y="726">材料</text><text x="1138" y="726">备注</text>
</g>
<g class="tw" style="font-size:11px">
<text x="794" y="719">序</text><text x="794" y="731">号</text><text x="985" y="719">数</text><text x="985" y="731">量</text>
<text x="1082" y="717" textLength="18" lengthAdjust="spacingAndGlyphs">单件</text><text x="1105" y="717" textLength="20" lengthAdjust="spacingAndGlyphs">总计</text><text x="1095" y="731">重量</text>
</g>

<text x="973" y="762" class="tc" style="font-size:16px">结合件</text>
<text x="1097" y="778" class="tc" style="font-size:10px" textLength="48" lengthAdjust="spacingAndGlyphs">DS2020振动筛</text>
<text x="1097" y="792" class="tc" style="font-size:10px">筛箱件</text>
</svg>
</body></html>
